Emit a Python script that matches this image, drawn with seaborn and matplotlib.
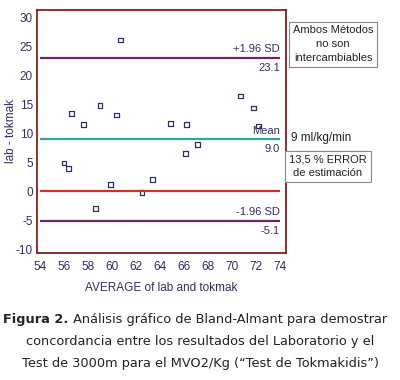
import numpy as np
import pandas as pd
import matplotlib
matplotlib.use('Agg')
import matplotlib.pyplot as plt
from matplotlib.ticker import MultipleLocator
import seaborn as sns

# Bland-Altman data
avg_vals = [56.0, 56.4, 56.6, 57.6, 58.6, 59.0, 59.9, 60.4, 60.7,
            62.5, 63.4, 64.9, 66.1, 66.2, 67.1, 70.7, 71.8, 72.2]
diff_vals = [4.9, 3.9, 13.4, 11.5, -3.0, 14.9, 1.2, 13.2, 26.2,
             -0.2, 2.1, 11.8, 6.6, 11.6, 8.1, 16.5, 14.4, 11.3]
mean_diff = 9.0
upper_loa = 23.1
lower_loa = -5.1

caption_bold = 'Figura 2.'
caption_lines = [' Análisis gráfico de Bland-Almant para demostrar',
                 'concordancia entre los resultados del Laboratorio y el',
                 'Test de 3000m para el MVO2/Kg (“Test de Tokmakidis”)']

df = pd.DataFrame({'avg': avg_vals, 'diff': diff_vals})

sns.set_style('white')
plt.rcParams['font.family'] = ['Liberation Sans', 'DejaVu Sans']
plt.rcParams['axes.unicode_minus'] = False

navy = '#2e2e66'
maroon = '#8a1c1c'
purple = '#6e2466'
teal = '#35a39a'
red = '#d0302a'

fig = plt.figure(figsize=(4, 3.8), dpi=100)
ax = fig.add_axes([0.0925, 0.334, 0.6225, 0.64])

sns.scatterplot(data=df, x='avg', y='diff', ax=ax, marker='s', s=12,
                facecolor='none', edgecolor=navy, linewidth=0.9, legend=False)

ax.hlines(upper_loa, 54, 74, color=purple, lw=1.6)
ax.hlines(mean_diff, 54, 74, color=teal, lw=1.6)
ax.hlines(0, 54, 74, color=red, lw=1.6)
ax.hlines(lower_loa, 54, 74, color=purple, lw=1.6)

lab_kw = dict(ha='right', color=navy, fontsize=8)
ax.text(74, upper_loa + 0.6, '+1.96 SD', va='bottom', **lab_kw)
ax.text(74, upper_loa - 0.9, f'{upper_loa:.1f}', va='top', **lab_kw)
ax.text(74, mean_diff + 0.6, 'Mean', va='bottom', **lab_kw)
ax.text(74, mean_diff - 0.9, f'{mean_diff:.1f}', va='top', **lab_kw)
ax.text(74, lower_loa + 0.6, '-1.96 SD', va='bottom', **lab_kw)
ax.text(74, lower_loa - 0.9, f'{lower_loa:.1f}', va='top', **lab_kw)

ax.set_xlim(53.75, 74.5)
ax.set_ylim(-10.7, 31.4)
ax.xaxis.set_major_locator(MultipleLocator(2))
ax.xaxis.set_minor_locator(MultipleLocator(0.4))
ax.yaxis.set_major_locator(MultipleLocator(5))
ax.yaxis.set_minor_locator(MultipleLocator(1))
ax.tick_params(which='both', direction='in', color=maroon, labelcolor=navy,
               labelsize=8.5, top=False, right=False)
ax.tick_params(which='major', length=5, width=1)
ax.tick_params(which='minor', length=3, width=1)
ax.tick_params(axis='x', pad=6)
ax.tick_params(axis='y', pad=3)
for sp in ax.spines.values():
    sp.set_color(maroon)
    sp.set_linewidth(1.3)

ax.set_xlabel('AVERAGE of lab and tokmak', color=navy, fontsize=8.5, labelpad=6)
ax.set_ylabel('lab - tokmak', color=navy, fontsize=8.5, va='center')
ax.yaxis.set_label_coords(-0.105, 0.5)

# annotations outside the plot
note_kw = dict(fontsize=8, color='#222222', linespacing=1.5, ha='center',
               va='center', multialignment='center')
box = dict(boxstyle='square,pad=0.35', fc='white', ec='#888888', lw=0.8)
fig.text(0.833, 0.883, 'Ambos Métodos\nno son\nintercambiables', bbox=box, **note_kw)
fig.text(0.727, 0.636, '9 ml/kg/min', ha='left', va='center', fontsize=8.5,
         color='#222222')
fig.text(0.82, 0.562, '13,5 % ERROR\nde estimación', bbox=box, **note_kw)

# caption
cap_kw = dict(fontsize=9.3, color='#222222', family=['DejaVu Sans'])
t1 = fig.text(0.008, 1 - 320 / 380, caption_bold, ha='left', va='center',
              fontweight='bold', **cap_kw)
ax.annotate(caption_lines[0], xy=(1, 0.5), xycoords=t1, ha='left', va='center', **cap_kw)
fig.text(0.5, 1 - 342 / 380, caption_lines[1], ha='center', va='center', **cap_kw)
fig.text(0.5, 1 - 364 / 380, caption_lines[2], ha='center', va='center', **cap_kw)

fig.savefig('out.png', dpi=100)
